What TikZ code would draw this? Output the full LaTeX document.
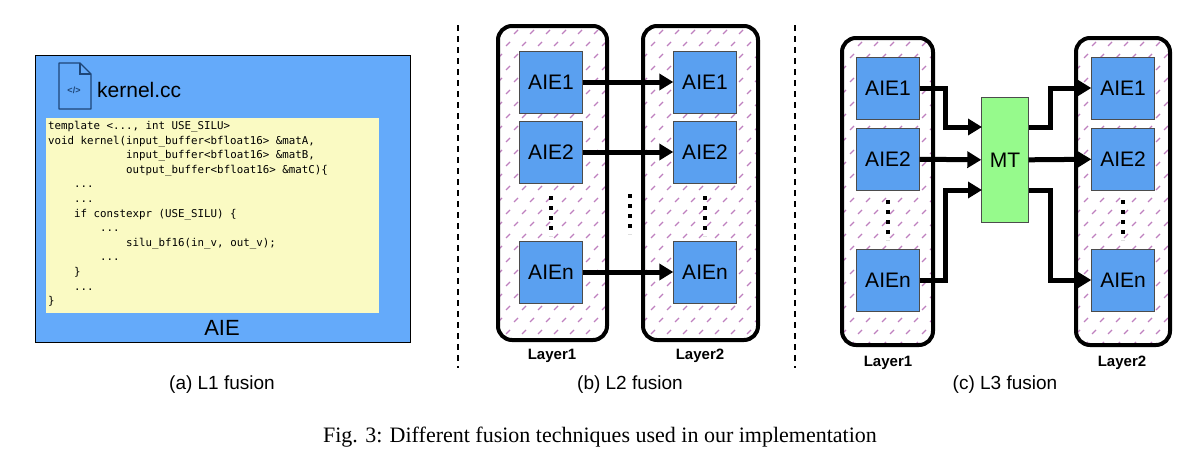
\documentclass[tikz,border=0pt]{standalone}
\usepackage{fontspec}
\usetikzlibrary{arrows.meta}
\setmainfont{Liberation Sans}
\newfontfamily\codefont{DejaVu Sans Mono}
\newfontfamily\capfont{Liberation Serif}
\newcommand\hatchbox[4]{%
 \begin{scope}
 \clip[rounded corners=14pt] (#1,#2) rectangle (#3,#4);
 \foreach \i in {0,...,27}{\foreach \j in {0,...,8}{
   \draw[violet!50,line width=1.3pt] ({#1+\j*16+mod(\i,2)*8},{#2+\i*12+8}) -- ++(4,-4);}}
 \end{scope}
 \draw[col] (#1,#2) rectangle (#3,#4);}
\begin{document}
\begin{tikzpicture}[x=1pt,y=-1pt,
 aie/.style={draw=black!70,fill={rgb,255:red,90;green,160;blue,240},minimum width=63pt,minimum height=62pt,font=\fontsize{21}{21}\selectfont,inner sep=0},
 col/.style={line width=4pt,rounded corners=14pt},
 arr/.style={line width=5pt,-{Triangle[length=14pt,width=16pt]}},
 lay/.style={font=\bfseries\fontsize{15}{15}\selectfont},
 capt/.style={font=\fontsize{19}{19}\selectfont},
 dots/.style={line width=4pt,dash pattern=on 4pt off 6pt}]
\useasboundingbox (0,0) rectangle (1199,471);
% ---- (a)
\node[draw=black,fill={rgb,255:red,100;green,170;blue,250},minimum width=375pt,minimum height=287pt,anchor=north west,inner sep=0] (aiebox) at (35,55) {};
\draw[line width=1.3pt,draw={rgb,255:red,30;green,70;blue,120},line join=round] (59,63) -- (80,63) -- (91,74) -- (91,109) -- (59,109) -- cycle;
\draw[line width=1.3pt,draw={rgb,255:red,30;green,70;blue,120}] (80,63) -- (80,74) -- (91,74);
\node[font=\bfseries\fontsize{9}{9}\selectfont,text={rgb,255:red,30;green,70;blue,120}] (ico) at (74,90) {</>};
\node[anchor=west,font=\fontsize{21}{21}\selectfont,inner sep=0] (kcc) at (97,90) {kernel.cc};
\node[fill={rgb,255:red,250;green,250;blue,195},minimum width=333pt,minimum height=195pt,anchor=north west,inner sep=0] (code) at (46,118) {};
\node[anchor=north west,align=left,inner sep=0,font=\codefont\fontsize{10.8}{14.6}\selectfont] (codetxt) at (48,121) {%
template <..., int USE\_SILU>\\
void kernel(input\_buffer<bfloat16> \&matA,\\
\hphantom{void kernel(}input\_buffer<bfloat16> \&matB,\\
\hphantom{void kernel(}output\_buffer<bfloat16> \&matC)\{\\
\hphantom{0000}...\\
\hphantom{0000}...\\
\hphantom{0000}if constexpr (USE\_SILU) \{\\
\hphantom{00000000}...\\
\hphantom{00000000}\hphantom{0000}silu\_bf16(in\_v, out\_v);\\
\hphantom{00000000}...\\
\hphantom{0000}\}\\
\hphantom{0000}...\\
\}};
\node[font=\fontsize{22}{22}\selectfont] (aielab) at (222,328) {AIE};
\node[capt] (capa) at (222,385) {(a) L1 fusion};
% dashed separators
\coordinate (d1a) at (458,25); \coordinate (d1b) at (458,368);
\coordinate (d2a) at (795,25); \coordinate (d2b) at (795,368);
\draw[line width=1.5pt,dash pattern=on 6pt off 5pt] (d1a) -- (d1b);
\draw[line width=1.5pt,dash pattern=on 6pt off 5pt] (d2a) -- (d2b);
% ---- (b)
\hatchbox{498}{26}{607}{340}
\hatchbox{643}{26}{758}{340}
\node[aie] (b11) at (551,82) {AIE1};
\node[aie] (b12) at (551,152) {AIE2};
\node[aie] (b1n) at (551,272) {AIEn};
\node[aie] (b21) at (705,82) {AIE1};
\node[aie] (b22) at (705,152) {AIE2};
\node[aie] (b2n) at (705,272) {AIEn};
\draw[arr] (b11) -- (b21);
\draw[arr] (b12) -- (b22);
\draw[arr] (b1n) -- (b2n);
\coordinate (bd1a) at (551,196); \coordinate (bd1b) at (551,236);
\coordinate (bd2a) at (705,196); \coordinate (bd2b) at (705,236);
\coordinate (bd3a) at (630,194); \coordinate (bd3b) at (630,234);
\draw[dots] (bd1a) -- (bd1b); \draw[dots] (bd2a) -- (bd2b); \draw[dots] (bd3a) -- (bd3b);
\node[lay] (bl1) at (552,356) {Layer1};
\node[lay] (bl2) at (700,356) {Layer2};
\node[capt] (capb) at (630,385) {(b) L2 fusion};
% ---- (c)
\hatchbox{842}{38}{933}{345}
\hatchbox{1076}{38}{1170}{345}
\node[aie] (c11) at (888,88) {AIE1};
\node[aie] (c12) at (888,159) {AIE2};
\node[aie] (c1n) at (888,280) {AIEn};
\node[aie] (c21) at (1123,88) {AIE1};
\node[aie] (c22) at (1123,159) {AIE2};
\node[aie] (c2n) at (1123,280) {AIEn};
\node[draw=black!70,fill={rgb,255:red,150;green,250;blue,140},minimum width=47pt,minimum height=125pt,inner sep=0,font=\fontsize{21}{21}\selectfont] (mt) at (1005,160) {MT};
\coordinate (m1) at (982,127); \coordinate (m3) at (982,190);
\coordinate (o1) at (1029,127); \coordinate (o3) at (1029,190);
\draw[arr] (c11.east) -| (945,127) -- (m1);
\draw[arr] (c12) -- (mt);
\draw[arr] (c1n.east) -| (945,190) -- (m3);
\draw[arr] (o1) -| (1050,88) -- (c21.west);
\draw[arr] (mt) -- (c22);
\draw[arr] (o3) -| (1050,280) -- (c2n.west);
\coordinate (cd1a) at (888,200); \coordinate (cd1b) at (888,240);
\coordinate (cd2a) at (1123,200); \coordinate (cd2b) at (1123,240);
\draw[dots] (cd1a) -- (cd1b); \draw[dots] (cd2a) -- (cd2b);
\node[lay] (cl1) at (888,363) {Layer1};
\node[lay] (cl2) at (1122,363) {Layer2};
\node[capt] (capc) at (1005,385) {(c) L3 fusion};
\node[font=\capfont\fontsize{22}{22}\selectfont] (fig) at (600,437) {Fig. 3: Different fusion techniques used in our implementation};
\end{tikzpicture}
\end{document}
